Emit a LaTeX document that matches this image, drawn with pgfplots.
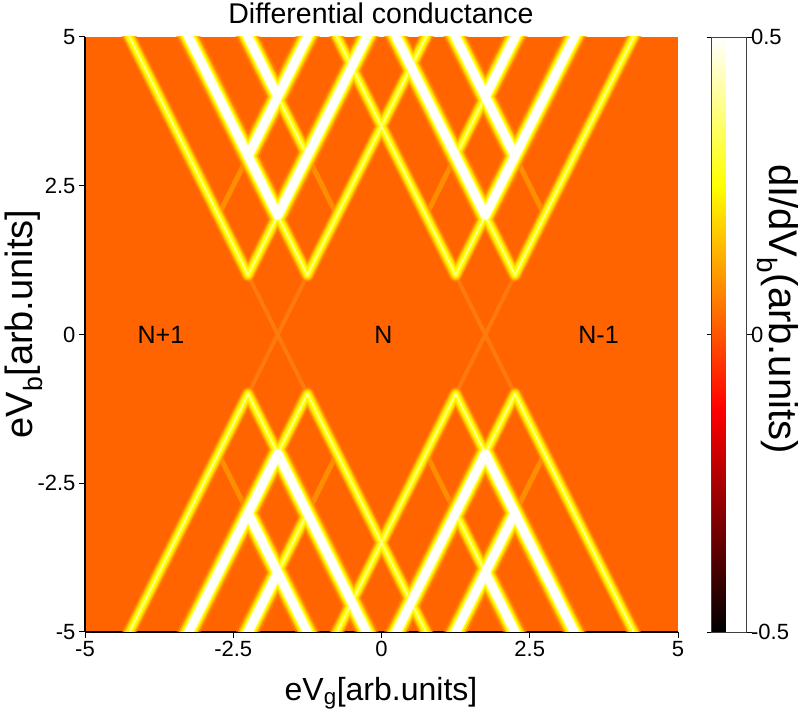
\documentclass[border=0pt]{standalone}
\usepackage{fontspec}
\setmainfont{Liberation Sans}
\setsansfont{Liberation Sans}
\usepackage{pgfplots}
\pgfplotsset{compat=1.18}
\usepackage{pgfplotstable}

\pgfkeys{/pgf/number format/assume math mode=true}

\definecolor{bgorange}{RGB}{255,100,0}
\definecolor{xfaint}{RGB}{255,122,12}
\definecolor{faintseg}{RGB}{255,175,0}
\definecolor{glow1}{RGB}{255,135,0}
\definecolor{glow2}{RGB}{255,170,0}
\definecolor{glow3}{RGB}{255,210,0}
\definecolor{glow4}{RGB}{255,240,0}
\definecolor{lineyellow}{RGB}{255,255,0}
\definecolor{corelight}{RGB}{255,255,150}

% Resonance lines of the two Coulomb-diamond groups (centred at Vg = -1.75 and 1.75),
% slopes +-2; rows of nan separate the segments.
\pgfplotstableread{
x y
-2.25 1
-1.25 -1
nan nan
-1.25 1
-2.25 -1
nan nan
2.25 1
1.25 -1
nan nan
1.25 1
2.25 -1
}\xsegs

\pgfplotstableread{
x y
-0.75 2
-1.25 3
nan nan
-2.75 2
-2.25 3
nan nan
0.75 2
1.25 3
nan nan
2.75 2
2.25 3
nan nan
-0.75 -2
-1.25 -3
nan nan
-2.75 -2
-2.25 -3
nan nan
0.75 -2
1.25 -3
nan nan
2.75 -2
2.25 -3
}\faintsegs

\pgfplotstableread{
x y
-4.5 5.5
-2.25 1
-1.75 2
-1.25 1
1.0 5.5
nan nan
-1.25 3
-1.75 4
nan nan
4.5 5.5
2.25 1
1.75 2
1.25 1
-1.0 5.5
nan nan
1.25 3
1.75 4
nan nan
-4.5 -5.5
-2.25 -1
-1.75 -2
-1.25 -1
1.0 -5.5
nan nan
-1.25 -3
-1.75 -4
nan nan
4.5 -5.5
2.25 -1
1.75 -2
1.25 -1
-1.0 -5.5
nan nan
1.25 -3
1.75 -4
}\yellowsegs

\pgfplotstableread{
x y
-3.5 5.5
-1.75 2
0 5.5
nan nan
-2.5 5.5
-1.75 4
nan nan
-2.25 3
-1.0 5.5
nan nan
3.5 5.5
1.75 2
0 5.5
nan nan
2.5 5.5
1.75 4
nan nan
2.25 3
1.0 5.5
nan nan
-3.5 -5.5
-1.75 -2
0 -5.5
nan nan
-2.5 -5.5
-1.75 -4
nan nan
-2.25 -3
-1.0 -5.5
nan nan
3.5 -5.5
1.75 -2
0 -5.5
nan nan
2.5 -5.5
1.75 -4
nan nan
2.25 -3
1.0 -5.5
}\whitesegs

\pgfplotsset{
  seg/.style={no markers, line cap=round, line join=round, forget plot},
}

\begin{document}
\begin{tikzpicture}
\path[use as bounding box] (0pt,0pt) rectangle (806pt,717pt);
\begin{axis}[
  at={(85pt,85pt)}, anchor=south west,
  width=593pt, height=595pt, scale only axis,
  xmin=-5, xmax=5, ymin=-5, ymax=5,
  xtick={-5,-2.5,0,2.5,5}, ytick={-5,-2.5,0,2.5,5},
  axis x line*=bottom, axis y line*=left,
  axis line style={black, line width=1.2pt},
  tick align=outside, major tick length=6pt,
  tick style={black, line width=1pt},
  ticklabel style={font=\fontsize{22}{26}\selectfont},
  axis background/.style={fill=bgorange},
  unbounded coords=jump,
  colormap={hotmap}{rgb255(0cm)=(0,0,0); rgb255(3cm)=(255,0,0); rgb255(6cm)=(255,255,0); rgb255(8cm)=(255,255,255)},
  point meta min=-0.5, point meta max=0.5,
  colorbar,
  colorbar style={
    at={(parent axis.north east)}, anchor=north west, xshift=25pt,
    width=35pt, height=595pt, scale only axis,
    ytick={-0.5,0,0.5},
    ytick pos=both, yticklabel pos=right,
    yticklabel style={font=\fontsize{22}{26}\selectfont, xshift=-4pt},
    tick align=outside, major tick length=5pt,
    tick style={black, line width=0.8pt},
    axis line style={draw=black!75, line width=0.8pt},
  },
]
% faint features
\addplot[seg, draw=xfaint, line width=4pt] table {\xsegs};
\addplot[seg, draw=faintseg, line width=5pt, opacity=0.55] table {\faintsegs};
% soft halo, outermost first
\addplot[seg, draw=glow1, line width=22pt, opacity=0.6] table {\whitesegs};
\addplot[seg, draw=glow1, line width=14pt, opacity=0.6] table {\yellowsegs};
\addplot[seg, draw=glow2, line width=18pt] table {\whitesegs};
\addplot[seg, draw=glow2, line width=11pt] table {\yellowsegs};
\addplot[seg, draw=glow3, line width=15.5pt] table {\whitesegs};
\addplot[seg, draw=glow3, line width=8.5pt] table {\yellowsegs};
\addplot[seg, draw=glow4, line width=13.5pt] table {\whitesegs};
\addplot[seg, draw=glow4, line width=6.5pt] table {\yellowsegs};
% line cores
\addplot[seg, draw=lineyellow, line width=12pt] table {\whitesegs};
\addplot[seg, draw=lineyellow, line width=4.5pt] table {\yellowsegs};
\addplot[seg, draw=corelight, line width=1.5pt] table {\yellowsegs};
\addplot[seg, draw=corelight, line width=10pt] table {\whitesegs};
\addplot[seg, draw=white, line width=8pt] table {\whitesegs};

\node[font=\fontsize{25}{30}\selectfont] at (axis cs:-3.72,0) {N+1};
\node[font=\fontsize{25}{30}\selectfont] at (axis cs:0.03,0) {N};
\node[font=\fontsize{25}{30}\selectfont] at (axis cs:3.66,0) {N-1};
\end{axis}

\node[anchor=base, font=\fontsize{28.5}{34}\selectfont] at (381pt,693pt) {Differential conductance};
\node[anchor=base, font=\fontsize{32}{38}\selectfont] at (381pt,16pt) {eV\textsubscript{g}[arb.units]};
\node[anchor=base, rotate=90, font=\fontsize{38}{46}\selectfont] at (32pt,393pt) {eV\textsubscript{b}[arb.units]};
\node[anchor=center, rotate=-90, font=\fontsize{40}{48}\selectfont] at (778pt,408pt) {dI/dV\textsubscript{b}(arb.units)};
\end{tikzpicture}
\end{document}
